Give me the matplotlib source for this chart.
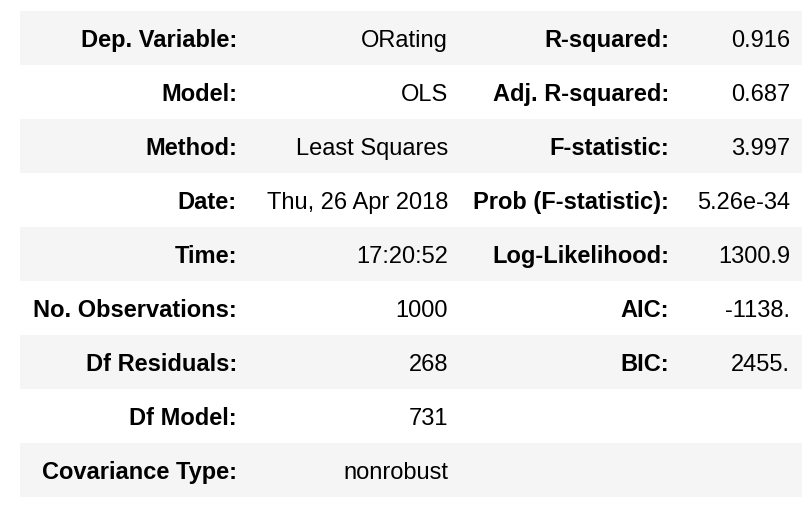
import matplotlib
matplotlib.use('Agg')
import matplotlib.pyplot as plt

# table contents (statsmodels OLS summary, top block)
left_labels = ['Dep. Variable:', 'Model:', 'Method:', 'Date:', 'Time:',
               'No. Observations:', 'Df Residuals:', 'Df Model:', 'Covariance Type:']
left_values = ['ORating', 'OLS', 'Least Squares', 'Thu, 26 Apr 2018', '17:20:52',
               '1000', '268', '731', 'nonrobust']
right_labels = ['R-squared:', 'Adj. R-squared:', 'F-statistic:', 'Prob (F-statistic):',
                'Log-Likelihood:', 'AIC:', 'BIC:', '', '']
right_values = ['0.916', '0.687', '3.997', '5.26e-34', '1300.9', '-1138.', '2455.', '', '']

W, H = 812, 510
fig = plt.figure(figsize=(W / 100, H / 100), dpi=100)
ax = fig.add_axes([0, 0, 1, 1])
ax.set_xlim(0, W)
ax.set_ylim(H, 0)
ax.axis('off')

top, row_h = 12, 54
x0, x1 = 20, 802
col_right = [237, 448, 669, 790]
fs = 17
font = 'Liberation Sans'

for i in range(len(left_labels)):
    y_top = top + i * row_h
    if i % 2 == 0:
        ax.fill_between([x0, x1], y_top, y_top + row_h, color='#f5f5f5', lw=0)
    yb = y_top + row_h / 2 + 8
    cells = [(left_labels[i], 'bold'), (left_values[i], 'normal'),
             (right_labels[i], 'bold'), (right_values[i], 'normal')]
    for (txt, wt), xr in zip(cells, col_right):
        if txt:
            ax.text(xr, yb, txt, ha='right', va='baseline', fontsize=fs,
                    fontweight=wt, family=font, color='#000000')

fig.savefig('out.png', dpi=100)
